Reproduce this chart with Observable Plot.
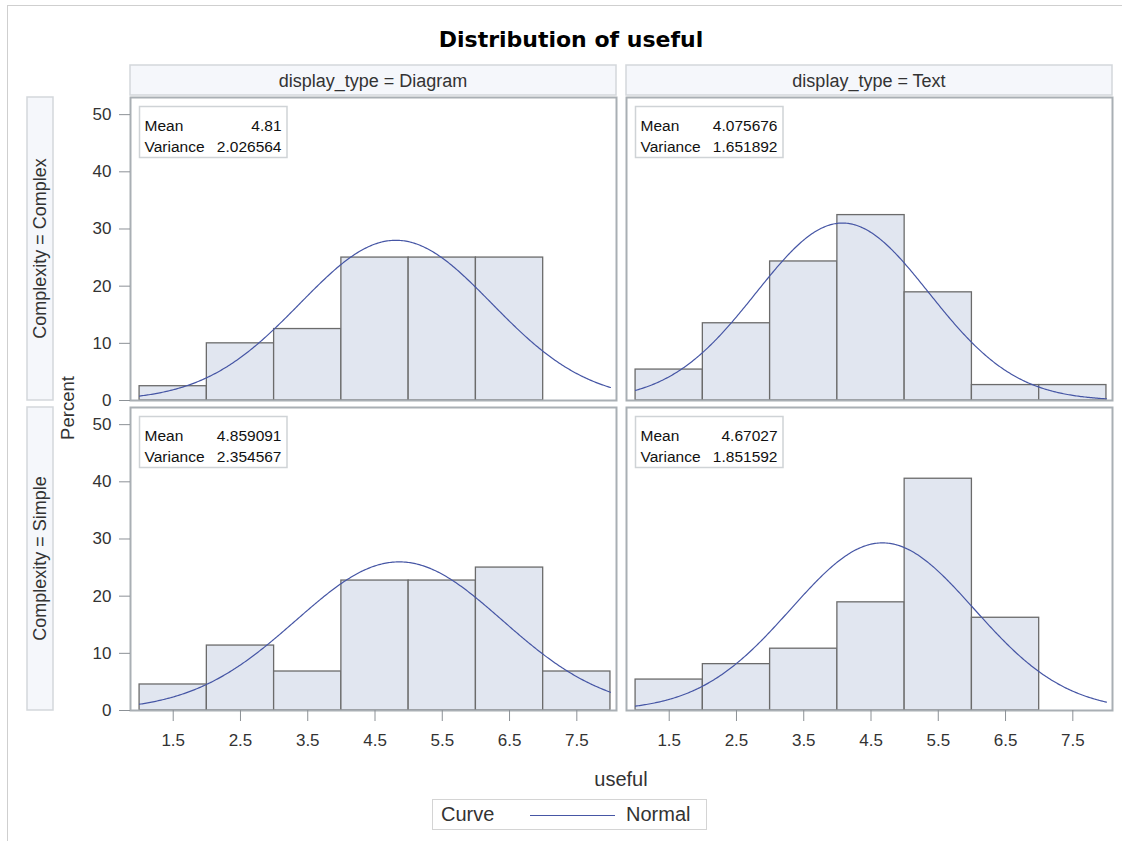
<!DOCTYPE html>
<html>
<head>
<meta charset="utf-8">
<script src="https://cdn.jsdelivr.net/npm/d3@7"></script>
<script src="https://cdn.jsdelivr.net/npm/@observablehq/plot@0.6"></script>
<style>
  body { margin: 0; background: #fff; }
  #wrap { position: relative; width: 1122px; height: 841px; overflow: hidden; font-family: "Liberation Sans", Arial, sans-serif; color: #333; }
  #outer { position: absolute; left: 7px; top: 5px; width: 1200px; height: 900px; border-top: 1px solid #cfcfcf; border-left: 1px solid #cfcfcf; }
  #title { position: absolute; left: 0; width: 1142px; top: 27px; text-align: center; font-family: "DejaVu Sans", Verdana, sans-serif; font-weight: bold; font-size: 22px; color: #000; line-height: 26px; }
  #percent { position: absolute; left: 67.5px; top: 408px; transform: translate(-50%, -50%) rotate(-90deg); font-size: 18.5px; white-space: nowrap; color: #333; }
  #xlabel { position: absolute; left: 621px; top: 768px; transform: translateX(-50%); font-size: 20px; color: #333; white-space: nowrap; }
  #legend { position: absolute; left: 432px; top: 799px; width: 273px; height: 29px; border: 1px solid #d4d4d4; font-size: 20px; color: #333; }
  #legend .lab1 { position: absolute; left: 8px; top: 3px; }
  #legend .sw { position: absolute; left: 97px; top: 15px; width: 85px; height: 0; border-top: 1.3px solid #4656a5; }
  #legend .lab2 { position: absolute; left: 193px; top: 3px; }
  svg { position: absolute; left: 0; top: 0; }
</style>
</head>
<body>
<div id="wrap">
  <div id="outer"></div>
  <div id="title">Distribution of useful</div>
  <div id="percent">Percent</div>
  <div id="xlabel">useful</div>
  <div id="legend"><span class="lab1">Curve</span><span class="sw"></span><span class="lab2">Normal</span></div>
</div>
<script>
// ---------------- data ----------------
const displayTypes = ["Diagram", "Text"];
const complexities = ["Complex", "Simple"];
const binStarts = [1, 2, 3, 4, 5, 6, 7];
const binWidth = 1;
const xTicks = [1.5, 2.5, 3.5, 4.5, 5.5, 6.5, 7.5];
const yTicks = [0, 10, 20, 30, 40, 50];

// panels in order: Diagram/Complex, Text/Complex, Diagram/Simple, Text/Simple
const panelDisplay = ["Diagram", "Text", "Diagram", "Text"];
const panelComplexity = ["Complex", "Complex", "Simple", "Simple"];

const pctDiagramComplex = [2.5, 10, 12.5, 25, 25, 25, 0];
const pctTextComplex = [5.41, 13.51, 24.32, 32.43, 18.92, 2.70, 2.70];
const pctDiagramSimple = [4.55, 11.36, 6.82, 22.73, 22.73, 25.0, 6.82];
const pctTextSimple = [5.41, 8.11, 10.81, 18.92, 40.54, 16.22, 0];
const percentByPanel = [pctDiagramComplex, pctTextComplex, pctDiagramSimple, pctTextSimple];

const meanLabels = ["4.81", "4.075676", "4.859091", "4.67027"];
const varianceLabels = ["2.026564", "1.651892", "2.354567", "1.851592"];

// ---------------- layout ----------------
const W = 1122, H = 841;
const mL = 130, mR = 9, mT = 97, mB = 131;
const colGap = 10, rowGap = 7;
const bandW = (W - mL - mR - colGap) / 2;
const bandH = (H - mT - mB - rowGap) / 2;
const stepW = bandW + colGap, stepH = bandH + rowGap;

// ---------------- derived tables ----------------
const bars = [];
percentByPanel.forEach((arr, i) => {
  arr.forEach((v, j) => {
    if (v > 0) bars.push({display_type: panelDisplay[i], Complexity: panelComplexity[i], x1: binStarts[j], x2: binStarts[j] + binWidth, pct: v});
  });
});

const curve = [];
panelDisplay.forEach((d, i) => {
  const m = +meanLabels[i], s = Math.sqrt(+varianceLabels[i]);
  const lo = binStarts[0], hi = binStarts[binStarts.length - 1] + binWidth;
  for (let k = 0; k <= 350; k++) {
    const x = lo + (hi - lo) * k / 350;
    const y = 100 * binWidth * Math.exp(-0.5 * ((x - m) / s) ** 2) / (s * Math.sqrt(2 * Math.PI));
    curve.push({display_type: d, Complexity: panelComplexity[i], panel: i, x, y});
  }
});

const insets = panelDisplay.map((d, i) => ({
  display_type: d, Complexity: panelComplexity[i],
  labels: "Mean\nVariance", values: meanLabels[i] + "\n" + varianceLabels[i]
}));

const plot = Plot.plot({
  width: W, height: H,
  marginTop: mT, marginBottom: mB, marginLeft: mL, marginRight: mR,
  style: {fontFamily: "'Liberation Sans', Arial, sans-serif", color: "#333", background: "transparent", overflow: "visible"},
  fx: {domain: displayTypes, paddingInner: colGap / stepW, paddingOuter: 0, axis: null},
  fy: {domain: complexities, paddingInner: rowGap / stepH, paddingOuter: 0, axis: null},
  x: {domain: [0.865, 8.09]},
  y: {domain: [0, 53]},
  marks: [
    Plot.rect(bars, {x1: "x1", x2: "x2", y1: 0, y2: "pct", fx: "display_type", fy: "Complexity",
      fill: "#e1e6f0", stroke: "#6b6b6b", strokeWidth: 1.3}),
    Plot.line(curve, {x: "x", y: "y", z: "panel", fx: "display_type", fy: "Complexity",
      stroke: "#4656a5", strokeWidth: 1.2}),
    Plot.frame({stroke: "#a9afb4", strokeWidth: 2}),
    Plot.frame({fill: "white", stroke: "#cfd3d6", strokeWidth: 1.5,
      insetLeft: 9, insetTop: 9, insetRight: bandW - 157, insetBottom: bandH - 60}),
    Plot.text(insets, {fx: "display_type", fy: "Complexity", frameAnchor: "top-left", text: "labels",
      dx: 14, dy: 19, lineAnchor: "top", textAnchor: "start", lineHeight: 1.355, fontSize: 15.5, fill: "#111"}),
    Plot.text(insets, {fx: "display_type", fy: "Complexity", frameAnchor: "top-left", text: "values",
      dx: 151, dy: 19, lineAnchor: "top", textAnchor: "end", lineHeight: 1.355, fontSize: 15.5, fill: "#111"}),
    Plot.axisY(yTicks, {anchor: "left", tickSize: 11, tickPadding: 8, fontSize: 17, label: null, stroke: "#8c9196", fill: "#333"}),
    Plot.axisX(xTicks, {anchor: "bottom", tickSize: 11, tickPadding: 12, fontSize: 17, label: null, stroke: "#8c9196", fill: "#333",
      tickFormat: d => d.toFixed(1)})
  ]
});

document.getElementById("wrap").appendChild(plot);

// facet strips drawn from the facet scales
const fxs = plot.scale("fx"), fys = plot.scale("fy");
const svg = d3.select(plot);
const strips = svg.append("g");
displayTypes.forEach(d => {
  const x0 = fxs.apply(d);
  strips.append("rect").attr("x", x0).attr("y", 65).attr("width", fxs.bandwidth).attr("height", 30)
    .attr("fill", "#f5f7fb").attr("stroke", "#d3d7db").attr("stroke-width", 1.5);
  strips.append("text").attr("x", x0 + fxs.bandwidth / 2).attr("y", 87)
    .attr("text-anchor", "middle").attr("font-size", 18).attr("fill", "#333")
    .text("display_type = " + d);
});
complexities.forEach(c => {
  const y0 = fys.apply(c);
  strips.append("rect").attr("x", 27).attr("y", y0).attr("width", 26).attr("height", fys.bandwidth)
    .attr("fill", "#f5f7fb").attr("stroke", "#d3d7db").attr("stroke-width", 1.5);
  strips.append("text").attr("transform", `translate(${46},${y0 + fys.bandwidth / 2}) rotate(-90)`)
    .attr("text-anchor", "middle").attr("font-size", 18).attr("fill", "#333")
    .text("Complexity = " + c);
});
</script>
</body>
</html>
